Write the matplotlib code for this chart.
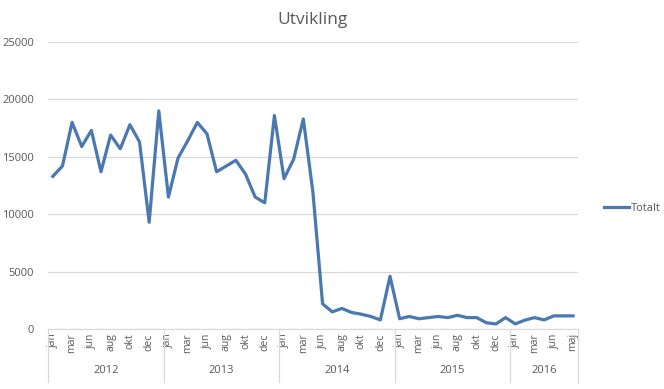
import matplotlib.pyplot as plt
import matplotlib.transforms as mtransforms

plt.rcParams['font.family'] = ['Open Sans', 'DejaVu Sans']

# Monthly totals, jan 2012 .. 2016 (55 points)
values = [
    13300, 14200, 18000, 15900, 17300, 13700, 16900, 15700, 17800, 16300, 9300, 19000,   # 2012
    11500, 14900, 16400, 18000, 17000, 13700, 14200, 14700, 13500, 11500, 11000, 18600,  # 2013
    13100, 14800, 18300, 11900, 2200, 1500, 1800, 1450, 1300, 1100, 800, 4600,            # 2014
    900, 1100, 900, 1000, 1100, 1000, 1200, 1000, 1000, 550, 450, 1000,                   # 2015
    450, 780, 1000, 800, 1150, 1150, 1150,                                                # 2016
]
years = ['2012', '2013', '2014', '2015', '2016']
months_per_year = [12, 12, 12, 12, 7]
month_labels = ['jan', 'mar', 'jun', 'aug', 'okt', 'dec']
month_labels_2016 = ['jan', 'mar', 'jun', 'maj']

fig = plt.figure(figsize=(6.64, 3.89), dpi=100)
ax = fig.add_axes([0.0723, 0.154, 0.798, 0.738])

x = list(range(len(values)))
line, = ax.plot(x, values, color='#4a78b0', linewidth=2.3, label='Totalt')

ax.set_xlim(-0.5, len(values) - 0.5)
ax.set_ylim(0, 25000)
ax.set_yticks(range(0, 25001, 5000))
ax.grid(axis='y', color='#d9d9d9', linewidth=0.9)
ax.set_axisbelow(True)
for side in ['top', 'right', 'left']:
    ax.spines[side].set_visible(False)
ax.spines['bottom'].set_color('#d9d9d9')
ax.tick_params(axis='y', length=0, labelsize=8, labelcolor='#595959', pad=10)

# month ticks: every second month within each year
ticks, labels = [], []
start = 0
for y, n in zip(years, months_per_year):
    names = month_labels if n == 12 else month_labels_2016
    for k, name in enumerate(names):
        ticks.append(start + 2 * k)
        labels.append(name)
    start += n
ax.set_xticks(ticks)
ax.set_xticklabels(labels, rotation=90)
ax.tick_params(axis='x', length=0, labelsize=7.5, labelcolor='#595959', pad=3)

# year group labels and separators
trans = mtransforms.blended_transform_factory(ax.transData, ax.transAxes)
start = 0
bounds = [-0.5]
for y, n in zip(years, months_per_year):
    ax.text(start + n / 2 - 0.5, -0.145, y, transform=trans, ha='center', va='center',
            fontsize=8, color='#595959')
    start += n
    bounds.append(start - 0.5)
for b in bounds:
    ax.plot([b, b], [0, -0.185], transform=trans, color='#d9d9d9', linewidth=0.9, clip_on=False)

ax.set_title('Utvikling', fontsize=12.5, color='#595959', pad=13)

fig.legend(handles=[line], loc='center left', bbox_to_anchor=(0.895, 0.465), frameon=False,
           fontsize=8, labelcolor='#595959', handlelength=2.2, handletextpad=0.2)

fig.savefig('out.png', dpi=100)
